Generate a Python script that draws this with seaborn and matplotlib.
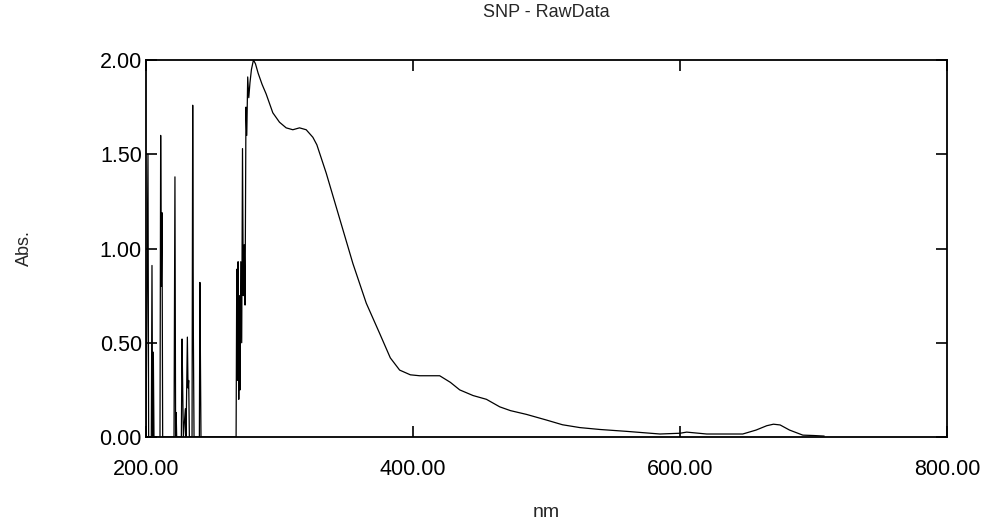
import numpy as np
import matplotlib
matplotlib.use("Agg")
import matplotlib.pyplot as plt
import seaborn as sns

# noisy UV region (detector saturation spikes)
uv_nm = [200.0, 201.5, 202.0, 204.0, 204.5, 205.0, 205.5, 206.0,
         210.5, 211.0, 211.5, 212.0, 212.5,
         221.0, 221.7, 222.2, 222.6, 223.0,
         226.5, 227.0, 227.5, 228.0, 229.5, 230.0,
         231.0, 231.5, 232.0, 232.5,
         234.5, 235.0, 235.5, 236.0,
         240.0, 240.4, 240.8, 241.2,
         267.5, 268.0, 268.5, 269.0, 269.5, 270.0, 270.5, 271.0, 271.7,
         272.3, 272.9, 273.6, 274.2, 274.9, 275.5, 276.2, 277.0, 277.9,
         279.0, 280.5]
uv_abs = [0.0, 1.50, 0.0, 0.0, 0.91, 0.0, 0.45, 0.0,
          0.0, 1.60, 0.80, 1.19, 0.0,
          0.0, 1.38, 0.0, 0.13, 0.0,
          0.0, 0.52, 0.26, 0.0, 0.15, 0.0,
          0.53, 0.26, 0.30, 0.0,
          0.0, 1.76, 0.54, 0.0,
          0.0, 0.82, 0.40, 0.0,
          0.0, 0.89, 0.30, 0.93, 0.20, 0.75, 0.25, 0.93, 0.50,
          1.53, 0.75, 1.02, 0.70, 1.75, 1.60, 1.91, 1.80, 1.88,
          1.95, 2.00]

# smooth part of the spectrum
vis_nm = [282, 284, 287, 290, 295, 300, 305, 310, 315, 320, 325, 328,
          335, 345, 355, 365, 375, 383, 390, 398, 405, 412, 420, 428,
          435, 445, 455, 465, 473, 485, 500, 512, 525, 540, 560, 585,
          600, 605, 620, 647, 657, 665, 670, 675, 682, 692, 700, 708]
vis_abs = [1.98, 1.93, 1.87, 1.82, 1.72, 1.67, 1.64, 1.63, 1.64, 1.63, 1.59, 1.55,
           1.40, 1.16, 0.92, 0.71, 0.55, 0.42, 0.355, 0.33, 0.325, 0.325, 0.325, 0.29,
           0.25, 0.22, 0.20, 0.16, 0.14, 0.12, 0.09, 0.065, 0.05, 0.04, 0.03, 0.016,
           0.02, 0.026, 0.016, 0.016, 0.037, 0.06, 0.068, 0.064, 0.037, 0.01, 0.008, 0.005]

x_ticks = [200, 400, 600, 800]
y_ticks = [0.0, 0.5, 1.0, 1.5, 2.0]

sns.set_style("ticks")
plt.rcParams['font.family'] = ['Liberation Sans', 'DejaVu Sans']

wl = np.array(uv_nm + vis_nm, dtype=float)
ab = np.array(uv_abs + vis_abs, dtype=float)

fig = plt.figure(figsize=(9.83, 5.23), dpi=100)
ax = fig.add_axes([0.1485, 0.1644, 0.8149, 0.7209])
sns.lineplot(x=wl, y=ab, ax=ax, color='black', linewidth=0.9, estimator=None, sort=False)

ax.set_xlim(200, 800)
ax.set_ylim(0, 2)
ax.set_xticks(x_ticks)
ax.set_yticks(y_ticks)
ax.set_xticklabels([f"{v:.2f}" for v in x_ticks])
ax.set_yticklabels([f"{v:.2f}" for v in y_ticks])
ax.tick_params(direction='in', length=8, width=1.2, top=True, right=True,
               labelsize=15.5, colors='black')
ax.tick_params(axis='x', pad=16)
ax.tick_params(axis='y', pad=3)
for s in ax.spines.values():
    s.set_linewidth(1.3)
    s.set_color('black')

ax.set_title('SNP - RawData', fontsize=13, pad=31)
ax.set_xlabel('nm', fontsize=14, labelpad=17)
ax.set_ylabel('Abs.', fontsize=13, labelpad=48)

fig.savefig('out.png', dpi=100)
